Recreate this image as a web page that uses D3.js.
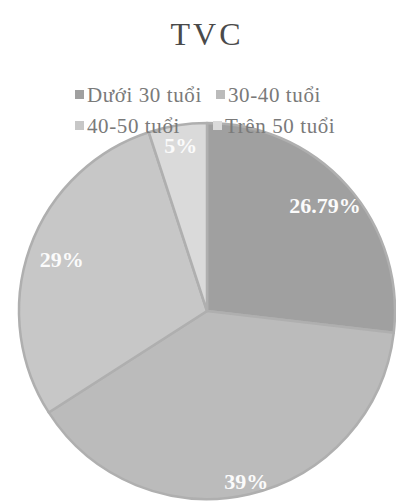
<!DOCTYPE html>
<html>
<head>
<meta charset="utf-8">
<script src="https://cdn.jsdelivr.net/npm/d3@7/dist/d3.min.js"></script>
<style>
  html, body { margin: 0; padding: 0; background: #fff; }
  svg { display: block; }
  text { font-family: "Liberation Serif", "Times New Roman", "DejaVu Serif", serif; }
</style>
</head>
<body>
<svg id="chart" width="396" height="503"></svg>
<script>
// Age groups of the TVC audience and their shares (%)
const categories = ["Dưới 30 tuổi", "30-40 tuổi", "40-50 tuổi", "Trên 50 tuổi"];
const shares = [26.79, 39, 29, 5];
const shareLabels = ["26.79%", "39%", "29%", "5%"];
const title = "TVC";

const cx = 207, cy = 311, R = 188;
const fills = ["#a0a0a0", "#bbbbbb", "#c7c7c7", "#dadada"];
// radial placement of each value label, as a fraction of the radius
const labelR = [0.84, 0.93, 0.82, 0.89];

const svg = d3.select("#chart");

const pie = d3.pie().value(d => d).sort(null);
const arcs = pie(shares);
const arc = d3.arc().innerRadius(0).outerRadius(R);

const g = svg.append("g").attr("transform", `translate(${cx},${cy})`);

g.selectAll("path.slice")
  .data(arcs)
  .join("path")
  .attr("class", "slice")
  .attr("d", arc)
  .attr("fill", (d, i) => fills[i])
  .attr("stroke", "#afafaf")
  .attr("stroke-width", 2.5)
  .attr("stroke-linejoin", "round");

g.selectAll("text.val")
  .data(arcs)
  .join("text")
  .attr("class", "val")
  .attr("transform", (d, i) => {
    const a = (d.startAngle + d.endAngle) / 2;
    const r = R * labelR[i];
    return `translate(${r * Math.sin(a)},${-r * Math.cos(a)})`;
  })
  .attr("text-anchor", "middle")
  .attr("dominant-baseline", "central")
  .attr("font-weight", "bold")
  .attr("font-size", 22)
  .attr("fill", "#fbfbfb")
  .text((d, i) => shareLabels[i]);

// title
svg.append("text")
  .attr("x", 207).attr("y", 45)
  .attr("text-anchor", "middle")
  .attr("font-size", 32)
  .attr("letter-spacing", 3)
  .attr("fill", "#4a4a4a")
  .text(title);

// legend, two rows of two entries
const legendPos = [[75, 95], [216, 95], [75, 126], [213, 126]];
const lg = svg.append("g");
categories.forEach((c, i) => {
  const [x, y] = legendPos[i];
  lg.append("rect")
    .attr("x", x).attr("y", y - 5).attr("width", 9).attr("height", 9)
    .attr("fill", fills[i]);
  lg.append("text")
    .attr("x", x + 12).attr("y", y)
    .attr("dominant-baseline", "central")
    .attr("font-size", 21)
    .attr("letter-spacing", 0.6)
    .attr("fill", "#7a7a7a")
    .text(c);
});
</script>
</body>
</html>
